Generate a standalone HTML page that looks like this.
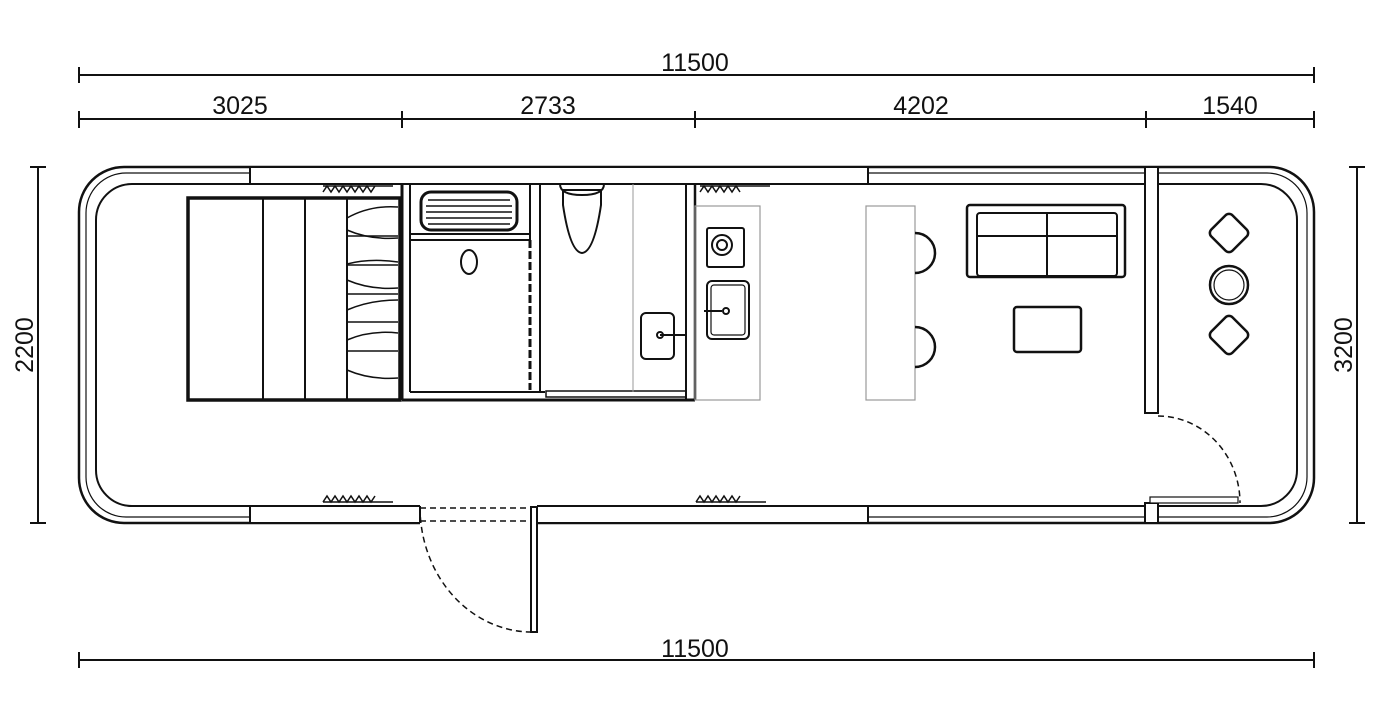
<!DOCTYPE html>
<html><head><meta charset="utf-8"><style>html,body{margin:0;background:#fff}svg{display:block}</style></head><body>
<svg width="1400" height="719" viewBox="0 0 1400 719" xmlns="http://www.w3.org/2000/svg" font-family="Liberation Sans, sans-serif">
<g stroke="#111" fill="none" stroke-width="2">
<!-- dimension lines -->
<line x1="79" y1="75" x2="1314" y2="75"/><line x1="79" y1="67" x2="79" y2="83"/><line x1="1314" y1="67" x2="1314" y2="83"/>
<line x1="79" y1="119" x2="1314" y2="119"/>
<line x1="79" y1="111" x2="79" y2="128"/><line x1="402" y1="111" x2="402" y2="128"/><line x1="695" y1="111" x2="695" y2="128"/><line x1="1146" y1="111" x2="1146" y2="128"/><line x1="1314" y1="111" x2="1314" y2="128"/>
<line x1="79" y1="660" x2="1314" y2="660"/><line x1="79" y1="652" x2="79" y2="668"/><line x1="1314" y1="652" x2="1314" y2="668"/>
<line x1="38" y1="167" x2="38" y2="523"/><line x1="30" y1="167" x2="46" y2="167"/><line x1="30" y1="523" x2="46" y2="523"/>
<line x1="1357" y1="167" x2="1357" y2="523"/><line x1="1349" y1="167" x2="1365" y2="167"/><line x1="1349" y1="523" x2="1365" y2="523"/>
<!-- shell -->
<rect x="79" y="167" width="1235" height="356" rx="45" stroke-width="2.5"/>
<rect x="86" y="173" width="1221" height="344" rx="40" stroke-width="1.2"/>
<rect x="96" y="184" width="1201" height="322" rx="36" stroke-width="2"/>
<rect x="250" y="167" width="618" height="17" fill="#fff"/>
<rect x="250" y="506" width="170" height="17" fill="#fff"/>
<rect x="537" y="506" width="331" height="17" fill="#fff"/>
<rect x="420" y="500" width="117" height="30" fill="#fff" stroke="none"/>
<line x1="420" y1="506" x2="420" y2="523"/>
<line x1="420" y1="508" x2="537" y2="508" stroke-dasharray="6,4" stroke-width="1.5"/>
<line x1="420" y1="521" x2="537" y2="521" stroke-dasharray="6,4" stroke-width="1.5"/>
<rect x="531" y="507" width="6" height="125" fill="#fff"/>
<path d="M420 507 A112 125 0 0 0 531 632" stroke-dasharray="6,4" stroke-width="1.5"/>
<!-- right partition -->
<rect x="1145" y="167" width="13" height="246" fill="#fff"/>
<rect x="1145" y="503" width="13" height="20" fill="#fff"/>
<rect x="1150" y="497" width="88" height="6" fill="#fff" stroke-width="1.2"/>
<path d="M1158 416 A82 87 0 0 1 1240 503" stroke-dasharray="6,4" stroke-width="1.5"/>
<!-- bed -->
<rect x="188" y="198" width="212" height="202" stroke-width="3.5"/>
<line x1="263" y1="198" x2="263" y2="400"/><line x1="305" y1="198" x2="305" y2="400"/><line x1="347" y1="198" x2="347" y2="400"/>
<g stroke-width="1.5">
<path d="M347 218 Q370 205 398 207"/><path d="M347 230 Q370 240 398 238"/><line x1="347" y1="236" x2="398" y2="236"/>
<path d="M347 264 Q370 258 398 262"/><line x1="347" y1="265" x2="398" y2="265"/><path d="M347 280 Q370 290 398 288"/>
<line x1="347" y1="294" x2="398" y2="294"/><path d="M347 310 Q370 300 398 300"/><line x1="347" y1="322" x2="398" y2="322"/>
<path d="M347 340 Q370 330 398 333"/><line x1="347" y1="351" x2="398" y2="351"/><path d="M347 370 Q370 380 398 378"/>
</g>
<!-- bathroom -->
<line x1="402" y1="184" x2="402" y2="400" stroke-width="3"/><line x1="410" y1="184" x2="410" y2="392"/>
<line x1="410" y1="392" x2="545" y2="392"/><line x1="402" y1="400" x2="695" y2="400" stroke-width="3"/>
<rect x="546" y="391" width="140" height="6" stroke-width="1.5"/>
<line x1="410" y1="234" x2="530" y2="234"/><line x1="410" y1="240" x2="530" y2="240"/>
<line x1="530" y1="184" x2="530" y2="240"/><line x1="530" y1="240" x2="530" y2="390" stroke-width="3" stroke-dasharray="8,3"/>
<line x1="540" y1="184" x2="540" y2="392"/>
<line x1="686" y1="184" x2="686" y2="400"/><line x1="695" y1="184" x2="695" y2="400" stroke-width="2.5"/>
<line x1="633" y1="184" x2="633" y2="392" stroke="#999" stroke-width="1"/>
<rect x="421" y="192" width="96" height="38" rx="10" stroke-width="3"/>
<g stroke-width="1.5"><line x1="428" y1="200" x2="510" y2="200"/><line x1="426" y1="206" x2="512" y2="206"/><line x1="426" y1="212" x2="512" y2="212"/><line x1="426" y1="218" x2="512" y2="218"/><line x1="428" y1="224" x2="510" y2="224"/></g>
<ellipse cx="469" cy="262" rx="8" ry="12"/><line x1="465" y1="240" x2="475" y2="240"/>
<path d="M563 190 L563 205 Q570 252 582 253 Q594 252 601 205 L601 190 Z" stroke-width="2"/>
<path d="M560 184 Q560 195 582 195 Q604 195 604 184"/>
<rect x="641" y="313" width="33" height="46" rx="5" stroke-width="2"/>
<circle cx="660" cy="335" r="3"/><line x1="660" y1="335" x2="686" y2="335"/>
<!-- kitchen -->
<rect x="695" y="206" width="65" height="194" stroke="#999" stroke-width="1.2"/>
<rect x="707" y="228" width="37" height="39" rx="2"/>
<circle cx="722" cy="245" r="10"/><circle cx="722" cy="245" r="5"/>
<rect x="707" y="281" width="42" height="58" rx="5"/><rect x="711" y="285" width="34" height="50" rx="3" stroke-width="1.2"/>
<line x1="704" y1="311" x2="722" y2="311"/><circle cx="726" cy="311" r="3"/>
<!-- bar -->
<rect x="866" y="206" width="49" height="194" stroke="#999" stroke-width="1.2"/>
<path d="M915 233 A20 20 0 0 1 915 273" stroke-width="2.5"/>
<path d="M915 327 A20 20 0 0 1 915 367" stroke-width="2.5"/>
<!-- sofa -->
<rect x="967" y="205" width="158" height="72" rx="3" stroke-width="2.5"/>
<rect x="977" y="213" width="140" height="63" rx="3"/>
<line x1="977" y1="236" x2="1117" y2="236"/><line x1="1047" y1="213" x2="1047" y2="276"/>
<rect x="1014" y="307" width="67" height="45" rx="3" stroke-width="2.5"/>
<!-- chairs -->
<g stroke-width="2.5">
<rect x="1214" y="218" width="30" height="30" rx="5" transform="rotate(45 1229 233)"/>
<circle cx="1229" cy="285" r="19"/><circle cx="1229" cy="285" r="15" stroke-width="1.2"/>
<rect x="1214" y="320" width="30" height="30" rx="5" transform="rotate(45 1229 335)"/>
</g>
<!-- curtains -->
<g stroke-width="1.5">
<path d="M323 192 l4 -6 4 6 4 -6 4 6 4 -6 4 6 4 -6 4 6 4 -6 4 6 4 -6 4 6 4 -6 M323 186 h70"/>
<path d="M700 192 l4 -6 4 6 4 -6 4 6 4 -6 4 6 4 -6 4 6 4 -6 4 6 M700 186 h70"/>
<path d="M323 502 l4 -6 4 6 4 -6 4 6 4 -6 4 6 4 -6 4 6 4 -6 4 6 4 -6 4 6 4 -6 M323 502 h70"/>
<path d="M696 502 l4 -6 4 6 4 -6 4 6 4 -6 4 6 4 -6 4 6 4 -6 4 6 4 -6 M696 502 h70"/>
</g>
</g>
<g font-size="25" fill="#111" text-anchor="middle">
<text x="695" y="71">11500</text>
<text x="240" y="114">3025</text>
<text x="548" y="114">2733</text>
<text x="921" y="114">4202</text>
<text x="1230" y="114">1540</text>
<text x="695" y="657">11500</text>
<text transform="translate(33 345) rotate(-90)">2200</text>
<text transform="translate(1352 345) rotate(-90)">3200</text>
</g>
</svg>
</body></html>
